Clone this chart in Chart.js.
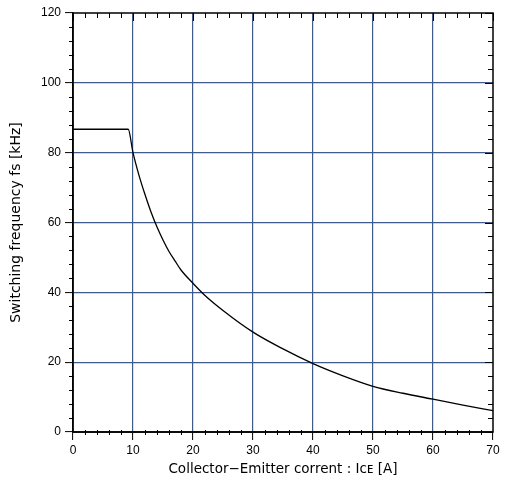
<!DOCTYPE html>
<html>
<head>
<meta charset="utf-8">
<script src="https://cdn.jsdelivr.net/npm/chart.js@4"></script>
<style>
html,body{margin:0;padding:0;background:#fff;}
#wrap{width:505px;height:489px;position:relative;}
</style>
</head>
<body>
<div id="wrap"><canvas id="c" width="505" height="489"></canvas></div>
<script>
// Data
const currentA = [0, 9.2, 10, 11, 12, 13, 14, 15, 16, 17, 18, 20, 22, 25, 30, 35, 40, 45, 50, 55, 60, 65, 70];
const freqKHz  = [86.7, 86.7, 80, 73.5, 68, 63, 58.7, 55, 51.7, 49, 46.4, 42.6, 39.1, 34.8, 28.6, 23.8, 19.6, 16.1, 13.1, 11.1, 9.4, 7.7, 6.1];
const xTicks = [0, 10, 20, 30, 40, 50, 60, 70];
const yTicks = [0, 20, 40, 60, 80, 100, 120];
const xTitle = 'Collector\u2212Emitter corrent : I\u1D04\u1D07 [A]';
const yTitle = 'Switching frequency fs [kHz]';

const points = currentA.map((x, i) => ({x: x, y: freqKHz[i]}));
const GRID = '#2f5cad';

const framePlugin = {
  id: 'frame',
  afterDraw(chart) {
    const ctx = chart.ctx, a = chart.chartArea;
    const xs = chart.scales.x, ys = chart.scales.y;
    ctx.save();
    ctx.strokeStyle = '#000';
    ctx.lineWidth = 1;
    ctx.beginPath();
    for (let v = 0; v <= 70; v += 2) {
      if (v % 10 === 0) continue;
      const px = Math.round(xs.getPixelForValue(v)) + 0.5;
      ctx.moveTo(px, a.top); ctx.lineTo(px, a.top + 5);
      ctx.moveTo(px, a.bottom - 2); ctx.lineTo(px, a.bottom + 3);
    }
    for (let v = 0; v <= 120; v += 4) {
      if (v % 20 === 0) continue;
      const py = Math.round(ys.getPixelForValue(v)) + 0.5;
      ctx.moveTo(a.left - 4, py); ctx.lineTo(a.left + 1, py);
      ctx.moveTo(a.right - 5, py); ctx.lineTo(a.right, py);
    }
    for (const v of xTicks) {
      const px = Math.round(xs.getPixelForValue(v)) + 0.5;
      ctx.moveTo(px, a.top); ctx.lineTo(px, a.top + 8);
    }
    for (const v of yTicks) {
      const py = Math.round(ys.getPixelForValue(v)) + 0.5;
      ctx.moveTo(a.right - 8, py); ctx.lineTo(a.right, py);
    }
    ctx.stroke();
    ctx.lineWidth = 1.5;
    ctx.strokeRect(a.left, a.top, a.right - a.left, a.bottom - a.top);
    ctx.restore();
  }
};

new Chart(document.getElementById('c'), {
  type: 'scatter',
  data: {
    datasets: [{
      data: points,
      showLine: true,
      borderColor: '#000',
      borderWidth: 1.3,
      pointRadius: 0,
      cubicInterpolationMode: 'monotone',
      fill: false
    }]
  },
  options: {
    responsive: false,
    animation: false,
    devicePixelRatio: 1,
    layout: {padding: {top: 13, right: 12, left: 0, bottom: 0}},
    plugins: {legend: {display: false}, tooltip: {enabled: false}},
    scales: {
      x: {
        type: 'linear', min: 0, max: 70,
        afterBuildTicks: s => { s.ticks = xTicks.map(v => ({value: v})); },
        afterFit: s => { s.height = 57; },
        grid: {
          color: c => (c.tick && c.tick.value > 0 && c.tick.value < 70) ? GRID : 'rgba(0,0,0,0)',
          lineWidth: 1.2,
          drawTicks: true, tickLength: 8, tickColor: '#000', tickWidth: 1
        },
        border: {display: true, color: '#333', width: 2},
        ticks: {color: '#000', font: {family: 'Liberation Sans', size: 12}, padding: 3, maxRotation: 0},
        title: {display: true, text: xTitle, color: '#000', font: {family: 'DejaVu Sans', size: 13.5}, padding: {top: 2, bottom: 11}}
      },
      y: {
        type: 'linear', min: 0, max: 120,
        afterBuildTicks: s => { s.ticks = yTicks.map(v => ({value: v})); },
        afterFit: s => { s.width = 73; },
        grid: {
          color: c => (c.tick && c.tick.value > 0 && c.tick.value < 120) ? GRID : 'rgba(0,0,0,0)',
          lineWidth: 1.2,
          drawTicks: true, tickLength: 8, tickColor: '#000', tickWidth: 1
        },
        border: {display: true, color: '#000', width: 1.5},
        ticks: {color: '#000', font: {family: 'Liberation Sans', size: 12}, padding: 4},
        title: {display: true, text: yTitle, color: '#000', font: {family: 'DejaVu Sans', size: 14}, padding: {top: 8, bottom: 0}}
      }
    }
  },
  plugins: [framePlugin]
});
</script>
</body>
</html>
